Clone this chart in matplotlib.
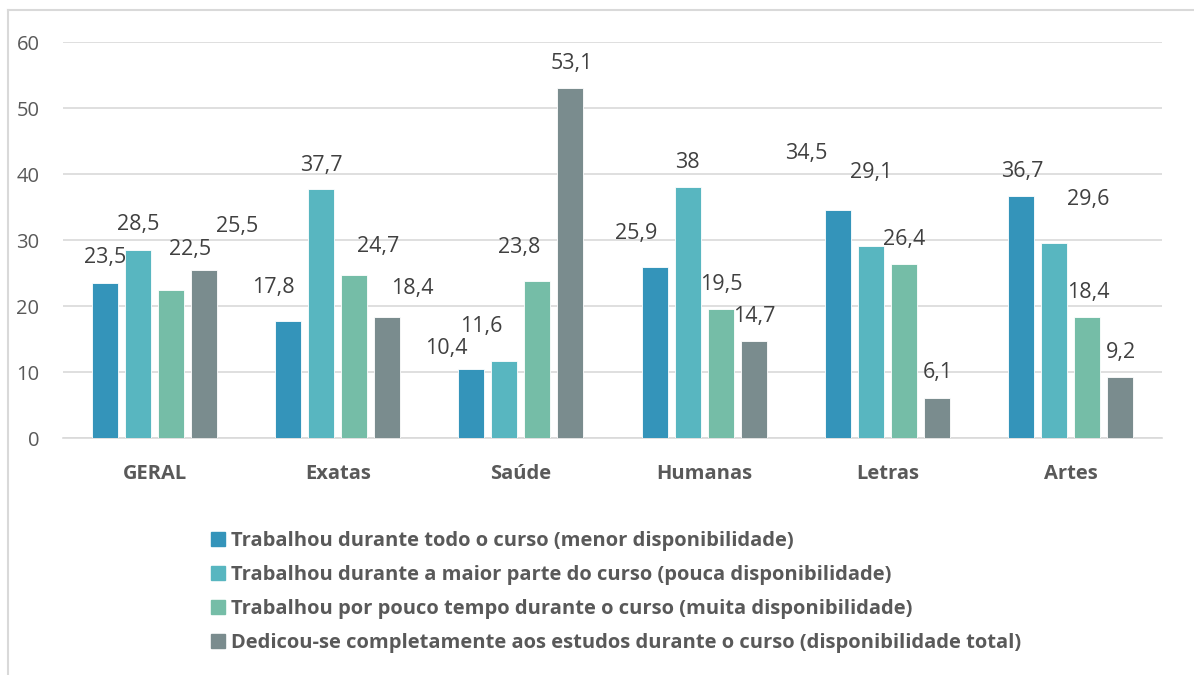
import numpy as np
import matplotlib.pyplot as plt
from matplotlib.lines import Line2D
from matplotlib.patches import Patch

categories = ['GERAL', 'Exatas', 'Saúde', 'Humanas', 'Letras', 'Artes']
series_names = [
    'Trabalhou durante todo o curso (menor disponibilidade)',
    'Trabalhou durante a maior parte do curso (pouca disponibilidade)',
    'Trabalhou por pouco tempo durante o curso (muita disponibilidade)',
    'Dedicou-se completamente aos estudos durante o curso (disponibilidade total)',
]
todo_curso = [23.5, 17.8, 10.4, 25.9, 34.5, 36.7]
maior_parte = [28.5, 37.7, 11.6, 38.0, 29.1, 29.6]
pouco_tempo = [22.5, 24.7, 23.8, 19.5, 26.4, 18.4]
dedicou_se = [25.5, 18.4, 53.1, 14.7, 6.1, 9.2]
series = [todo_curso, maior_parte, pouco_tempo, dedicou_se]

colors = ['#3494BA', '#58B6C0', '#75BDA7', '#7A8C8E']

# label nudges in pixels (dx, dy) relative to bar top centre, as placed in the original
nudges = [
    [(0, 25), (-15, 33), (-25, 21), (-18, 34), (-32, 57), (1, 24)],
    [(0, 25), (0, 24), (-23, 35), (0, 25), (0, 73), (34, 43)],
    [(19, 40), (24, 28), (-18, 33), (1, 25), (0, 24), (1, 24)],
    [(33, 43), (25, 28), (1, 24), (1, 24), (1, 25), (1, 25)],
]

plt.rcParams['font.family'] = ['Open Sans', 'DejaVu Sans']

fig = plt.figure(figsize=(11.94, 6.75), dpi=100)
ax = fig.add_axes([63 / 1194, 1 - 438 / 675, (1162 - 63) / 1194, (438 - 42) / 675])

x = np.arange(len(categories))
width = 0.142
pitch = 0.18
for i, (vals, col) in enumerate(zip(series, colors)):
    pos = x + (i - 1.5) * pitch
    ax.bar(pos, vals, width, color=col, edgecolor='white', linewidth=0.6,
           label=series_names[i], zorder=3)
    for j, v in enumerate(vals):
        dx, dy = nudges[i][j]
        txt = f'{v:g}'.replace('.', ',')
        ax.annotate(txt, (pos[j], v), xytext=(dx, dy), textcoords='offset pixels',
                    ha='center', va='center', fontsize=15.5, color='#404040')

ax.set_xlim(-0.5, len(categories) - 0.5)
ax.set_ylim(0, 60)
ax.set_yticks(range(0, 61, 10))
ax.set_xticks(x)
ax.set_xticklabels(categories, fontsize=14.5, fontweight='bold', color='#595959')
ax.tick_params(axis='y', labelsize=14.5, labelcolor='#595959', length=0, pad=17)
ax.tick_params(axis='x', length=0, pad=19)
ax.grid(axis='y', color='#D9D9D9', linewidth=1.2, zorder=0)
for s in ['top', 'right', 'left']:
    ax.spines[s].set_visible(False)
ax.spines['bottom'].set_color('#D9D9D9')
ax.spines['bottom'].set_linewidth(1.2)

handles = [Patch(color=c) for c in colors]
leg = fig.legend(handles, series_names, loc='upper left',
                 bbox_to_anchor=(211 / 1194, 1 - 531 / 675), frameon=False,
                 prop={'size': 14.5, 'weight': 'bold'}, handlelength=0.7,
                 handleheight=0.7, handletextpad=0.3, labelspacing=0.7,
                 borderpad=0, borderaxespad=0)
for t in leg.get_texts():
    t.set_color('#595959')

# outer chart frame (cut off on the right and bottom)
fig.add_artist(Line2D([8 / 1194, 8 / 1194], [0, 1 - 10 / 675], color='#D9D9D9', lw=1.5))
fig.add_artist(Line2D([8 / 1194, 1], [1 - 10 / 675, 1 - 10 / 675], color='#D9D9D9', lw=1.5))

fig.savefig('out.png', dpi=100)
